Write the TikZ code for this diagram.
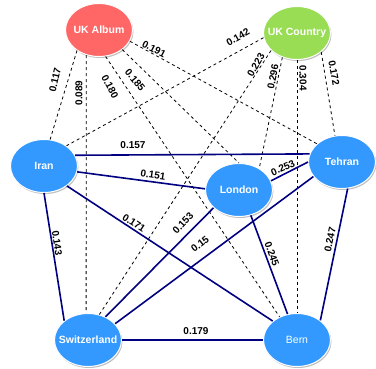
\documentclass[tikz,border=0pt]{standalone}
\usepackage{fontspec}
\setmainfont{Liberation Sans}
\usetikzlibrary{shapes.geometric,shadows}
\definecolor{albumred}{HTML}{FF6666}
\definecolor{countrygreen}{HTML}{99DD55}
\definecolor{cityblue}{HTML}{3399FF}
\definecolor{edgenavy}{HTML}{000080}
\begin{document}
\begin{tikzpicture}[x=1pt,y=-1pt,
  gnode/.style={ellipse, minimum width=67pt, minimum height=53pt, inner sep=0pt,
    draw=white, line width=1pt, text=white,
    font=\fontsize{10.5}{12}\selectfont\bfseries,
    drop shadow={shadow xshift=1pt, shadow yshift=-1.5pt, fill=black!25, opacity=1}},
  album/.style={gnode, fill=albumred},
  country/.style={gnode, fill=countrygreen},
  city/.style={gnode, fill=cityblue},
  dashedge/.style={draw=black, line width=0.8pt, dash pattern=on 3pt off 3pt},
  solidedge/.style={draw=edgenavy, line width=1.6pt},
  elabel/.style={font=\fontsize{10}{12}\selectfont\bfseries, inner sep=0pt, text=black}]
\fill[white] (0,0) rectangle (376,369);
\useasboundingbox (0,0) rectangle (376,369);

% nodes
\node[album]   (A) at (99,30)  {\makebox[0pt][c]{UK Album}};
\node[country] (C) at (297,33) {\makebox[0pt][c]{UK Country}};
\node[city]    (I) at (44,166) {\makebox[0pt][c]{Iran}};
\node[city]    (L) at (239,190) {\makebox[0pt][c]{London}};
\node[city]    (T) at (342,162) {\makebox[0pt][c]{Tehran}};
\node[city]    (S) at (88,340) {\makebox[0pt][c]{Switzerland}};
\node[city]    (B) at (297,340) {\makebox[0pt][c]{\mdseries Bern}};

% dashed edges
\draw[dashedge] (A.223) -- (I.77);
\draw[dashedge] (A.243) -- (S.94);
\draw[dashedge] (A.284) -- (B.127);
\draw[dashedge] (A.320) -- (L.90);
\draw[dashedge] (A.340) -- (T.144);
\draw[dashedge] (C.188) -- (I.42);
\draw[dashedge] (C.214) -- (S.66);
\draw[dashedge] (C.239) -- (L.47);
\draw[dashedge] (C.270) -- (B.90);
\draw[dashedge] (C.322) -- (T.105);

% solid edges
\draw[solidedge] (I.19) -- (T.166);
\draw[solidedge] (I.350) -- (L.178);
\draw[solidedge] (I.319) -- (B.142);
\draw[solidedge] (I.270) -- (S.141);
\draw[solidedge] (L.16) -- (T.180);
\draw[solidedge] (L.215) -- (S.53);
\draw[solidedge] (T.207) -- (S.31);
\draw[solidedge] (L.295) -- (B.110);
\draw[solidedge] (T.282) -- (B.40);
\draw[solidedge] (S.0) -- (B.180);

% labels
\node[elabel, rotate=77]  (l117) at (55,80)  {0.117};
\node[elabel, rotate=90]  (l089) at (79,93)  {0.089};
\node[elabel, rotate=-62] (l180) at (110,87) {0.180};
\node[elabel, rotate=-50] (l185) at (135,80) {0.185};
\node[elabel, rotate=-28] (l191) at (154,49) {0.191};
\node[elabel, rotate=30]  (l142) at (238,37) {0.142};
\node[elabel, rotate=60]  (l223) at (256,65) {0.223};
\node[elabel, rotate=79]  (l296) at (273,77) {0.296};
\node[elabel, rotate=-89] (l304) at (303,78) {0.304};
\node[elabel, rotate=-80] (l172) at (334,73) {0.172};
\node[elabel]             (l157) at (133,145) {0.157};
\node[elabel, rotate=-9]  (l151) at (153,175) {0.151};
\node[elabel, rotate=-33] (l171) at (134,223) {0.171};
\node[elabel, rotate=-82] (l143) at (57,243) {0.143};
\node[elabel, rotate=47]  (l153) at (183,223) {0.153};
\node[elabel, rotate=38]  (l150) at (200,244) {0.15};
\node[elabel, rotate=-70] (l245) at (272,254) {0.245};
\node[elabel, rotate=24]  (l253) at (283,168) {0.253};
\node[elabel, rotate=78]  (l247) at (330,240) {0.247};
\node[elabel]             (l179) at (196,331) {0.179};
\end{tikzpicture}
\end{document}
